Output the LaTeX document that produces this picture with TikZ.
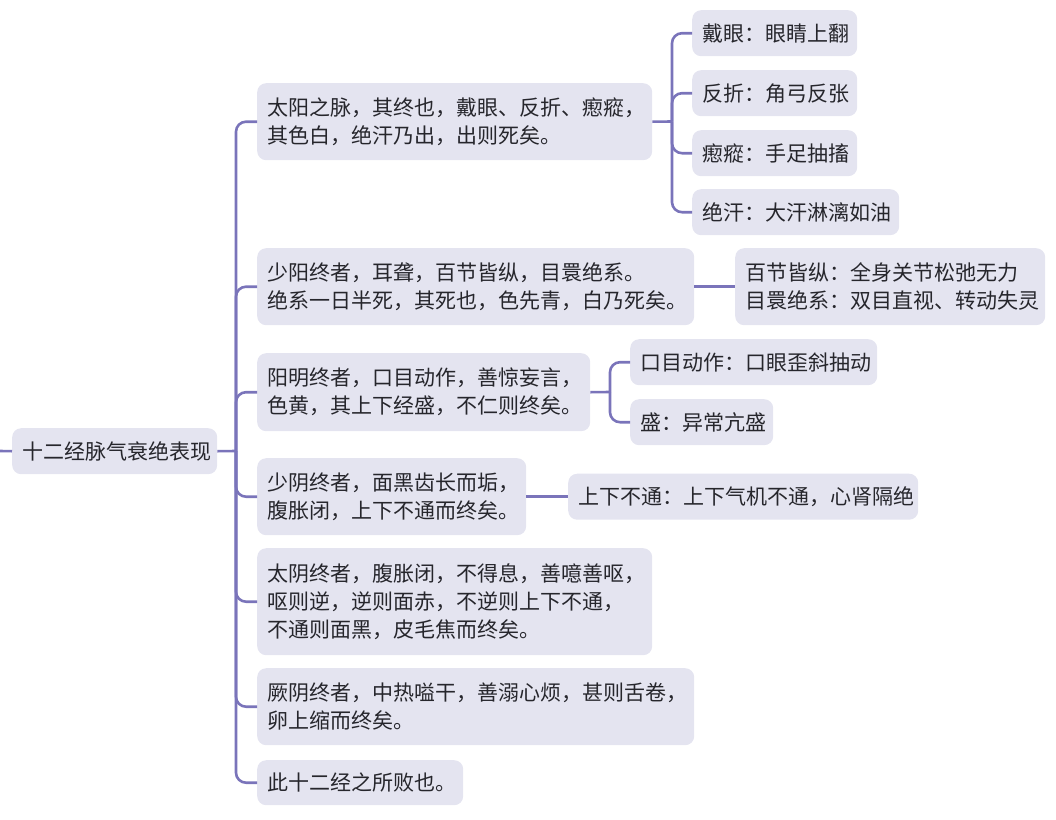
\documentclass[tikz,border=0pt]{standalone}
\usepackage{fontspec}
\setmainfont{Noto Sans CJK SC}
\definecolor{boxfill}{RGB}{228,228,240}
\definecolor{linec}{RGB}{122,116,186}
\definecolor{txt}{RGB}{38,38,44}
\tikzset{
  bx/.style={fill=boxfill, rounded corners=9pt, anchor=north west, align=left,
    inner xsep=10pt, inner ysep=0pt, text=txt,
    font=\fontsize{21pt}{28pt}\selectfont},
  conn/.style={draw=linec, line width=2.6pt, rounded corners=10pt},
}
\hbadness=10000 \hfuzz=100pt
\begin{document}
\begin{tikzpicture}[x=1pt,y=-1pt]
\useasboundingbox (0,0) rectangle (1056,819);
% root
\node[bx, text width=185pt, minimum height=46pt] (root) at (12,428) {十二经脉气衰绝表现};
% level 1
\node[bx, text width=375pt, minimum height=77pt] (A) at (257,83) {太阳之脉，其终也，戴眼、反折、瘛瘲，\\其色白，绝汗乃出，出则死矣。};
\node[bx, text width=417pt, minimum height=77pt] (B) at (257,248) {少阳终者，耳聋，百节皆纵，目睘绝系。\\绝系一日半死，其死也，色先青，白乃死矣。};
\node[bx, text width=313pt, minimum height=78pt] (C) at (257,353) {阳明终者，口目动作，善惊妄言，\\色黄，其上下经盛，不仁则终矣。};
\node[bx, text width=249pt, minimum height=77pt] (D) at (257,458) {少阴终者，面黑齿长而垢，\\腹胀闭，上下不通而终矣。};
\node[bx, text width=375pt, minimum height=107pt] (E) at (257,548) {太阴终者，腹胀闭，不得息，善噫善呕，\\呕则逆，逆则面赤，不逆则上下不通，\\不通则面黑，皮毛焦而终矣。};
\node[bx, text width=417pt, minimum height=77pt] (F) at (257,668) {厥阴终者，中热嗌干，善溺心烦，甚则舌卷，\\卵上缩而终矣。};
\node[bx, text width=186pt, minimum height=45pt] (G) at (257,760) {此十二经之所败也。};
% level 2
\node[bx, text width=145pt, minimum height=46pt] (A1) at (692,10) {戴眼：眼睛上翻};
\node[bx, text width=145pt, minimum height=46pt] (A2) at (692,70) {反折：角弓反张};
\node[bx, text width=145pt, minimum height=46pt] (A3) at (692,130) {瘛瘲：手足抽搐};
\node[bx, text width=187pt, minimum height=46pt] (A4) at (692,189) {绝汗：大汗淋漓如油};
\node[bx, text width=290pt, minimum height=77pt] (B1) at (735,248) {百节皆纵：全身关节松弛无力\\目睘绝系：双目直视、转动失灵};
\node[bx, text width=227pt, minimum height=46pt] (C1) at (630,339) {口目动作：口眼歪斜抽动};
\node[bx, text width=123pt, minimum height=46pt] (C2) at (630,399) {盛：异常亢盛};
\node[bx, text width=330pt, minimum height=46pt] (D1) at (568,473.5) {上下不通：上下气机不通，心肾隔绝};
% junctions
\coordinate (lstub) at (0,451);
\coordinate (rj) at (236,451);
\coordinate (aj) at (672,121.5);
\coordinate (cj) at (610,392);
% connectors
\draw[conn] (lstub) -- (root.west);
\draw[conn] (root.east) -- (rj);
\foreach \n in {A,B,C,D,E,F,G} { \draw[conn] (rj) |- (\n.west); }
\draw[conn] (A.east) -- (aj);
\foreach \n in {A1,A2,A3,A4} { \draw[conn] (aj) |- (\n.west); }
\draw[conn] (B.east) -- (B1.west);
\draw[conn] (C.east) -- (cj);
\foreach \n in {C1,C2} { \draw[conn] (cj) |- (\n.west); }
\draw[conn] (D.east) -- (D1.west);
\end{tikzpicture}
\end{document}
